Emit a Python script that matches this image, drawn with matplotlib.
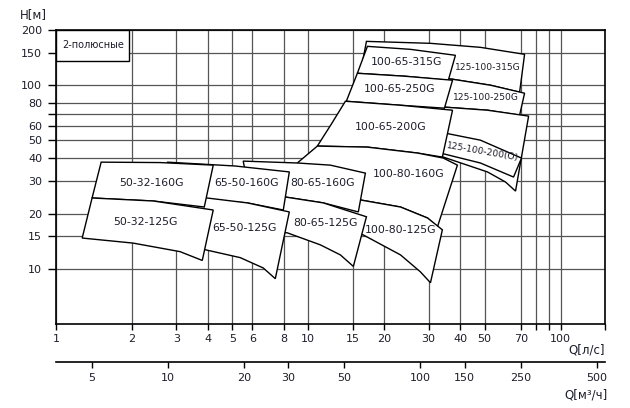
import matplotlib
matplotlib.use("Agg")
import matplotlib.pyplot as plt
from matplotlib.ticker import FixedLocator, NullLocator
from matplotlib.patches import Rectangle

# pump fields: [Q top edge], [H top edge], [Q bottom edge], [H bottom edge]  (Q l/s, H m)
f_125_100_315 = [[17.0, 30.5, 48.1, 72.0], [173.4, 169.2, 160.9, 147.4],
                 [16.1, 27.8, 37.3, 52.8, 68.8], [116.2, 111.9, 107.8, 100.0, 91.6]]
f_125_100_250 = [[27.8, 37.3, 52.8, 72.0], [111.9, 107.8, 100.0, 90.5],
                 [27.8, 35.0, 51.3, 68.8], [77.8, 75.9, 73.1, 68.7]]
f_125_100_200 = [[27.8, 35.0, 51.3, 74.7], [77.8, 75.9, 73.1, 67.9],
                 [27.8, 34.3, 51.3, 60.5, 66.3], [43.2, 40.6, 33.7, 29.7, 26.5]]
f_125_100_200_band = [[33.4, 48.1, 70.0], [55.5, 50.2, 40.1],
                      [33.4, 48.1, 65.1], [42.7, 37.7, 31.6]]
f_100_65_315 = [[17.15, 25.4, 38.3], [162.9, 156.9, 145.6],
                [15.65, 24.3, 35.9], [116.2, 111.9, 106.5]]
f_100_65_250 = [[15.65, 24.3, 37.3], [116.2, 111.9, 106.5],
                [14.15, 23.2, 34.65], [81.8, 77.8, 75.0]]
f_100_65_200 = [[10.86, 12.34, 14.03, 23.2, 37.3], [46.6, 61.4, 81.8, 77.8, 73.1],
                [10.86, 17.15, 27.1, 34.0], [46.6, 46.0, 42.7, 40.6]]
f_100_80_160 = [[9.05, 10.86, 17.15, 27.1, 34.3, 39.0], [37.7, 46.6, 46.0, 42.7, 40.1, 36.7],
                [8.88, 16.1, 23.2, 29.7, 32.5], [24.9, 23.7, 21.7, 18.9, 16.9]]
f_100_80_125 = [[8.88, 16.1, 23.2, 29.7, 34.0], [24.9, 23.7, 21.7, 18.9, 16.3],
                [9.3, 16.5, 23.2, 27.8, 30.5], [16.7, 15.3, 11.9, 9.63, 8.39]]
f_80_65_160 = [[5.52, 9.05, 12.23, 16.84], [38.6, 37.7, 36.7, 33.2],
               [5.89, 8.1, 11.47, 15.79], [24.9, 24.6, 22.85, 20.4]]
f_80_65_125 = [[5.89, 8.1, 11.47, 17.0], [24.9, 24.6, 22.85, 19.2],
               [5.89, 8.25, 11.16, 13.4, 15.09], [16.3, 15.7, 13.5, 11.9, 10.3]]
f_65_50_160 = [[2.76, 5.13, 8.41], [38.1, 36.3, 33.7],
               [2.83, 5.73, 7.96], [24.6, 22.85, 20.9]]
f_65_50_125 = [[2.83, 3.97, 5.73, 8.41], [24.6, 24.3, 22.85, 20.4],
               [2.97, 3.9, 5.37, 6.63, 7.4], [13.2, 12.7, 11.5, 10.1, 8.83]]
f_50_32_160 = [[1.51, 2.59, 4.2], [38.1, 37.9, 36.7],
               [1.39, 2.43, 3.87], [24.3, 23.4, 21.7]]
f_50_32_125 = [[1.39, 2.43, 4.2], [24.3, 23.4, 20.9],
               [1.27, 2.02, 3.1, 3.8], [14.7, 13.8, 12.4, 11.1]]

label_names = ['50-32-160G', '50-32-125G', '65-50-160G', '65-50-125G',
               '80-65-160G', '80-65-125G', '100-80-160G', '100-80-125G',
               '100-65-200G', '100-65-250G', '100-65-315G',
               '125-100-315G', '125-100-250G', '125-100-200(O)']
label_q = [2.38, 2.26, 5.68, 5.57, 11.36, 11.68, 24.9, 23.2, 21.2, 23.0, 24.5, 51.3, 50.4, 49.0]
label_h = [29.3, 18.0, 29.3, 16.7, 29.3, 17.8, 32.8, 16.3, 59.1, 95.1, 133.4, 125.3, 86.1, 43.2]

q_ticks = [1, 2, 3, 4, 5, 6, 8, 10, 15, 20, 30, 40, 50, 70, 80, 90, 100, 150]
q_labels = ['1', '2', '3', '4', '5', '6', '8', '10', '15', '20', '30', '40', '50', '70', '', '', '100', '']
m3_ticks = [5, 10, 20, 30, 50, 100, 150, 250, 500]
h_ticks = [10, 15, 20, 30, 40, 50, 60, 70, 80, 100, 150, 200]
h_labels = ['10', '15', '20', '30', '40', '50', '60', '', '80', '100', '150', '200']

txt = '#1d1d2b'
fig = plt.figure(figsize=(6.3, 4.08), dpi=100)
ax = fig.add_axes([56 / 630, 1 - 324 / 408, 549 / 630, 294 / 408])
ax.set_xscale('log')
ax.set_yscale('log')
ax.set_xlim(1, 150)
ax.set_ylim(5, 200)

ax.xaxis.set_major_locator(FixedLocator(q_ticks))
ax.set_xticklabels(q_labels)
ax.yaxis.set_major_locator(FixedLocator(h_ticks))
ax.set_yticklabels(h_labels)
ax.xaxis.set_minor_locator(NullLocator())
ax.yaxis.set_minor_locator(NullLocator())
ax.tick_params(axis='x', direction='out', length=4, width=1, pad=3, labelsize=8, colors='black', labelcolor=txt)
ax.tick_params(axis='y', direction='out', length=6, width=1, pad=4, labelsize=8, colors='black', labelcolor=txt)
ax.grid(True, color='#555555', lw=0.9)
ax.set_axisbelow(True)
for s in ax.spines.values():
    s.set_linewidth(1.2)
    s.set_color('black')

fields = [f_125_100_315, f_125_100_250, f_125_100_200, f_125_100_200_band,
          f_100_65_315, f_100_65_250, f_100_65_200, f_100_80_160, f_100_80_125,
          f_80_65_160, f_80_65_125, f_65_50_160, f_65_50_125, f_50_32_160, f_50_32_125]
for i, (qt, ht, qb, hb) in enumerate(fields):
    ax.fill(qt + qb[::-1], ht + hb[::-1], facecolor='white', edgecolor='black',
            lw=1.0, zorder=2 + i * 0.01)

for name, q, h in zip(label_names, label_q, label_h):
    size = 6.6 if name.startswith('125') else 7.8
    rot = -10 if name.endswith('(O)') else 0
    ax.text(q, h, name, fontsize=size, color=txt, ha='center', va='center',
            rotation=rot, zorder=5)

# "2-полюсные" box
ax.add_patch(Rectangle((0, 0.8946), 0.133, 0.1054, transform=ax.transAxes,
                       facecolor='white', edgecolor='black', lw=1.0, zorder=4))
ax.text(0.011, 0.949, '2-полюсные', transform=ax.transAxes, fontsize=7,
        color=txt, ha='left', va='center', zorder=5)

# second flow scale in m3/h
sec = ax.secondary_xaxis(-0.129, functions=(lambda q: q * 3.6, lambda m: m / 3.6))
sec.xaxis.set_major_locator(FixedLocator(m3_ticks))
sec.set_xticklabels([str(t) for t in m3_ticks])
sec.xaxis.set_minor_locator(NullLocator())
sec.tick_params(axis='x', direction='out', length=4, width=1, pad=4, labelsize=8, colors='black', labelcolor=txt)
sec.spines['bottom'].set_linewidth(1.2)

fig.text(20 / 630, 1 - 15 / 408, 'H[м]', fontsize=8.5, color=txt, ha='left', va='center')
fig.text(605 / 630, 1 - 350 / 408, 'Q[л/с]', fontsize=8.5, color=txt, ha='right', va='center')
fig.text(608 / 630, 1 - 395 / 408, 'Q[м³/ч]', fontsize=8.5, color=txt, ha='right', va='center')

fig.savefig('out.png', dpi=100)
